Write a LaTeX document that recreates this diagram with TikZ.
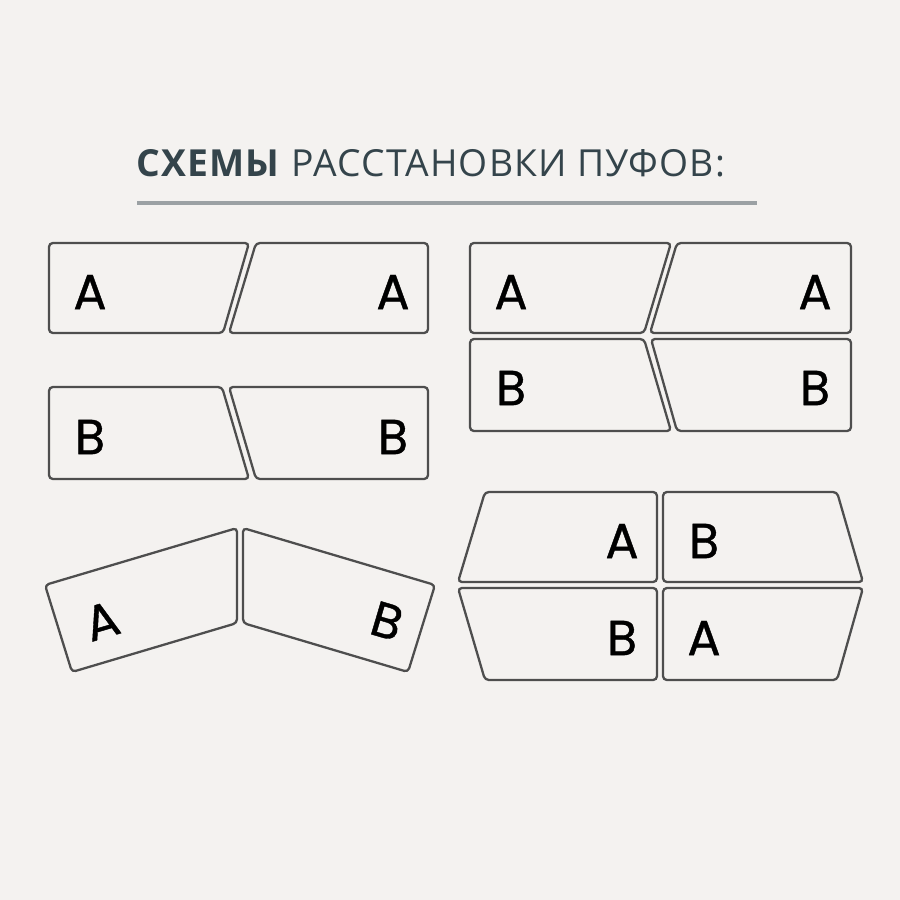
\documentclass[tikz,border=0pt]{standalone}
\usepackage{fontspec}
\setmainfont{Open Sans}
\newfontfamily\letterfont[FakeBold=0.8]{Poppins}
\usetikzlibrary{positioning,calc}
\definecolor{bgcol}{HTML}{F4F2F0}
\definecolor{titlecol}{HTML}{34444B}
\definecolor{rulecol}{HTML}{9BA1A4}
\definecolor{edgecol}{HTML}{4E4E4E}
\tikzset{
  piece/.style={draw=edgecol, line width=0.65pt, rounded corners=1.1pt, fill=bgcol},
  letter/.style={inner sep=0pt, font=\letterfont\fontsize{14}{14}\selectfont, text=black}
}
\begin{document}
\begin{tikzpicture}[x=0.01cm,y=-0.01cm]
\fill [bgcol] (0,0) rectangle (900,900);
\useasboundingbox (0,0) rectangle (900,900);
% title
\node (title) [anchor=base west, inner sep=0pt, text=titlecol,
  font=\addfontfeatures{LetterSpace=3}\fontsize{10.6}{12}\selectfont] at (136,176)
  {\textbf{СХЕМЫ} РАССТАНОВКИ ПУФОВ:};
\draw [rulecol, line width=0.9pt] (137,203) -- (757,203);
% row A, left
\draw [piece] (49,243) -- (249,243) -- (223,333) -- (49,333) -- cycle;
\draw [piece] (256,243) -- (428,243) -- (428,333) -- (229,333) -- cycle;
\node (a1) [letter] at (90,292) {A};
\node (a2) [letter] at (393,292) {A};
% row B, left
\draw [piece] (49,387) -- (222,387) -- (249,479) -- (49,479) -- cycle;
\draw [piece] (229,387) -- (428,387) -- (428,479) -- (256,479) -- cycle;
\node (b1) [letter] at (90,437) {B};
\node (b2) [letter] at (393,437) {B};
% block, right top
\draw [piece] (470,243) -- (671,243) -- (644,333) -- (470,333) -- cycle;
\draw [piece] (677,243) -- (851,243) -- (851,333) -- (650,333) -- cycle;
\draw [piece] (470,339) -- (644,339) -- (671,431) -- (470,431) -- cycle;
\draw [piece] (651,339) -- (851,339) -- (851,431) -- (677,431) -- cycle;
\node (a3) [letter] at (511,292) {A};
\node (a4) [letter] at (815,292) {A};
\node (b3) [letter] at (511,388) {B};
\node (b4) [letter] at (815,388) {B};
% corner, left bottom
\draw [piece] (45,585) -- (237,528) -- (237,623) -- (72,672) -- cycle;
\draw [piece] (243,528) -- (435,585) -- (408,672) -- (243,623) -- cycle;
\node (a5) [letter, rotate=16.5] at (102,621) {A};
\node (b5) [letter, rotate=-16.5] at (387,621) {B};
% block, right bottom
\draw [piece] (485,492) -- (657,492) -- (657,582) -- (458,582) -- cycle;
\draw [piece] (663,492) -- (837,492) -- (863,582) -- (663,582) -- cycle;
\draw [piece] (458,588) -- (657,588) -- (657,680) -- (485,680) -- cycle;
\draw [piece] (663,588) -- (863,588) -- (837,680) -- (663,680) -- cycle;
\node (a6) [letter] at (622,541) {A};
\node (b6) [letter] at (704,541) {B};
\node (b7) [letter] at (622,638) {B};
\node (a7) [letter] at (704,638) {A};
\end{tikzpicture}
\end{document}
